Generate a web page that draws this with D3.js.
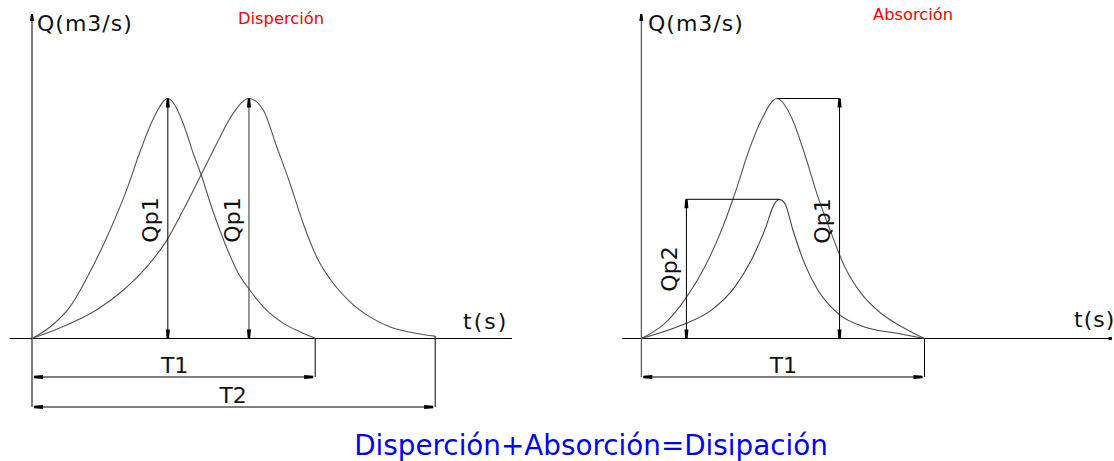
<!DOCTYPE html>
<html>
<head>
<meta charset="utf-8">
<script src="https://cdn.jsdelivr.net/npm/d3@7"></script>
<style>
  html, body { margin: 0; padding: 0; background: #fff; }
  svg { display: block; }
  text { font-family: "DejaVu Sans", sans-serif; }
</style>
</head>
<body>
<svg id="chart" width="1114" height="461"></svg>
<script>
// ---------- data (t in arbitrary time units, Q with peak = 10) ----------
const panelTitles = ["Disperción", "Absorción"];
const axisLabelQ = "Q(m3/s)";
const axisLabelT = "t(s)";
const footerText = "Disperción+Absorción=Disipación";

// Left panel: dispersion (two hydrographs with same peak, shifted/widened)
const dispersionQ1 = [[0,0],[3.75,0.48],[7.9,1.32],[12.1,2.78],[16.25,4.51],[19.7,6.18],[22.5,7.78],[25.3,9.17],[28.3,10],
  [31.5,8.96],[33.6,7.71],[35.4,6.73],[37.4,5.48],[40.2,3.96],[43.0,2.71],[45.4,2.01],[48.2,1.32],[52.4,0.63],[55.8,0.28],[58.6,0.04],[59,0]];
const dispersionQ2 = [[0,0],[6.5,0.5],[13.5,1.2],[19.0,2.01],[23.9,2.98],[28.1,4.10],[31.5,5.35],[35.0,6.73],[38.5,8.13],[41.9,9.38],[45.2,10],
  [48.2,9.51],[51.0,7.98],[53.75,6.46],[56.5,4.79],[59.3,3.40],[62.8,2.29],[66.25,1.53],[70.4,0.9],[74.6,0.48],[80.1,0.21],[84.0,0.1]];
// Right panel: absorption (same duration, lower peak)
const absorptionQ1 = [[0,0],[4.9,0.63],[9.0,1.6],[13.2,2.98],[16.7,4.51],[19.5,6.04],[22.2,7.71],[25.0,9.1],[28.3,10],
  [31.25,9.23],[34.0,7.71],[36.8,5.9],[39.6,4.38],[42.4,2.98],[45.8,1.88],[50,1.04],[54.9,0.42],[59,0]];
const absorptionQ2 = [[0,0],[8.3,0.55],[14.6,1.18],[19.5,2.15],[22.9,3.26],[25.7,4.51],[27.8,5.63],[28.8,5.79],
  [29.9,5.63],[31.6,4.51],[34.0,3.13],[36.8,2.01],[41.0,1.04],[46.5,0.48],[53.5,0.21],[59,0]];

const peakTimes = { disp1: 28.3, disp2: 45.2, abs1: 28.3, abs2: 28.8 };
const Qp1 = 10, Qp2 = 5.8;
const T1 = 59, T2 = 84;
const absQp1Line = 41.3, absQp2Line = 9.4;

// ---------- scales ----------
const xL = d3.scaleLinear().domain([0, 100]).range([32, 512]);
const xR = d3.scaleLinear().domain([0, 100]).range([641.3, 1121.3]);
const y = d3.scaleLinear().domain([0, 10]).range([338.5, 98.5]);

const svg = d3.select("#chart");
const defs = svg.append("defs");
defs.append("marker").attr("id", "arr")
  .attr("viewBox", "-10 -3 11 6").attr("refX", 0).attr("refY", 0)
  .attr("markerUnits", "userSpaceOnUse").attr("markerWidth", 11).attr("markerHeight", 6)
  .attr("orient", "auto-start-reverse")
  .append("path").attr("d", "M0,-1.2 L-9,-2 L-9,2 L0,1.2 Z").attr("fill", "#000");
defs.append("marker").attr("id", "sq")
  .attr("viewBox", "-2 -2 4 4").attr("refX", 0).attr("refY", 0)
  .attr("markerUnits", "userSpaceOnUse").attr("markerWidth", 4).attr("markerHeight", 4)
  .append("rect").attr("x", -1.6).attr("y", -1.6).attr("width", 3.2).attr("height", 3.2).attr("fill", "#000");
defs.append("marker").attr("id", "yarr")
  .attr("viewBox", "-10 -3 11 6").attr("refX", 0).attr("refY", 0)
  .attr("markerUnits", "userSpaceOnUse").attr("markerWidth", 11).attr("markerHeight", 6)
  .attr("orient", "auto")
  .append("path").attr("d", "M0,-1 L-7,-2 L-7,2 L0,1 Z").attr("fill", "#000");

const line = (x) => d3.line().x(d => x(d[0])).y(d => y(d[1])).curve(d3.curveMonotoneX);

function seg(x1, y1, x2, y2, opts = {}) {
  const l = svg.append("line").attr("x1", x1).attr("y1", y1).attr("x2", x2).attr("y2", y2)
    .attr("stroke", opts.color || "#000").attr("stroke-width", opts.w || 1);
  if (opts.start) l.attr("marker-start", `url(#${opts.start})`);
  if (opts.end) l.attr("marker-end", `url(#${opts.end})`);
  return l;
}
function label(txt, x0, y0, opts = {}) {
  const t = svg.append("text").attr("x", x0).attr("y", y0).text(txt)
    .attr("font-size", opts.size || 22).attr("fill", opts.color || "#111")
    .attr("text-anchor", opts.anchor || "start");
  if (opts.ls) t.attr("letter-spacing", opts.ls);
  if (opts.rot) t.attr("transform", `rotate(${opts.rot},${x0},${y0})`);
  return t;
}

const dimT1 = 377, dimT2 = 407; // dimension line rows (px)

// ---------- left panel ----------
seg(xL(0), dimT2, xL(0), 14, { end: "yarr" });
seg(xL(-4.6), y(0), xL(100), y(0));
label(axisLabelQ, 37, 31, { ls: 1 });
label(axisLabelT, 463, 329, { ls: 2 });
label(panelTitles[0], 238, 24, { size: 16.3, color: "#ff0000" });

svg.append("path").datum(dispersionQ1).attr("d", line(xL)).attr("fill", "none").attr("stroke", "#555").attr("stroke-width", 1.1);
svg.append("path").datum(dispersionQ2).attr("d", line(xL)).attr("fill", "none").attr("stroke", "#555").attr("stroke-width", 1.1);

seg(xL(peakTimes.disp1), y(Qp1), xL(peakTimes.disp1), y(0), { start: "arr", end: "arr" });
seg(xL(peakTimes.disp2), y(Qp1), xL(peakTimes.disp2), y(0), { start: "arr", end: "arr", color: "#333" });
label("Qp1", 158, 220, { rot: -90, anchor: "middle" });
label("Qp1", 240, 220, { rot: -90, anchor: "middle" });

seg(xL(T1), y(0), xL(T1), dimT1);
seg(xL(T2), y(dispersionQ2[dispersionQ2.length - 1][1]), xL(T2), dimT2);
seg(xL(0) + 2, dimT1, xL(T1) - 2, dimT1, { start: "arr", end: "arr" });
seg(xL(0) + 2, dimT2, xL(T2) - 2, dimT2, { start: "arr", end: "arr" });
label("T1", (xL(0) + xL(T1)) / 2 + 1, 373, { anchor: "middle" });
label("T2", (xL(0) + xL(T2)) / 2 - 0.5, 403, { anchor: "middle" });

// ---------- right panel ----------
seg(xR(0), dimT1, xR(0), 14, { end: "yarr", color: "#333" });
seg(xR(-4), y(0), xR(97.7), y(0), { end: "sq" });
label(axisLabelQ, 648, 31, { ls: 1 });
label(axisLabelT, 1074, 327, { ls: 1 });
label(panelTitles[1], 873, 20, { size: 16.3, color: "#ff0000" });

svg.append("path").datum(absorptionQ1).attr("d", line(xR)).attr("fill", "none").attr("stroke", "#555").attr("stroke-width", 1.1);
svg.append("path").datum(absorptionQ2).attr("d", line(xR)).attr("fill", "none").attr("stroke", "#444").attr("stroke-width", 1.1);

seg(xR(peakTimes.abs1), y(Qp1), xR(absQp1Line), y(Qp1));
seg(xR(absQp1Line), y(Qp1), xR(absQp1Line), y(0), { start: "arr", end: "arr" });
label("Qp1", 830, 221, { rot: -90, anchor: "middle" });
seg(xR(absQp2Line), y(Qp2), xR(peakTimes.abs2), y(Qp2));
seg(xR(absQp2Line), y(Qp2), xR(absQp2Line), y(0), { start: "arr", end: "arr" });
label("Qp2", 677, 269, { rot: -90, anchor: "middle" });

seg(xR(T1), y(0), xR(T1), dimT1);
seg(xR(0) + 2, dimT1, xR(T1) - 2, dimT1, { start: "arr", end: "arr" });
label("T1", (xR(0) + xR(T1)) / 2 + 0.5, 373, { anchor: "middle" });

// ---------- footer ----------
label(footerText, 591, 455, { size: 27.8, color: "#0000ff", anchor: "middle" });
</script>
</body>
</html>
